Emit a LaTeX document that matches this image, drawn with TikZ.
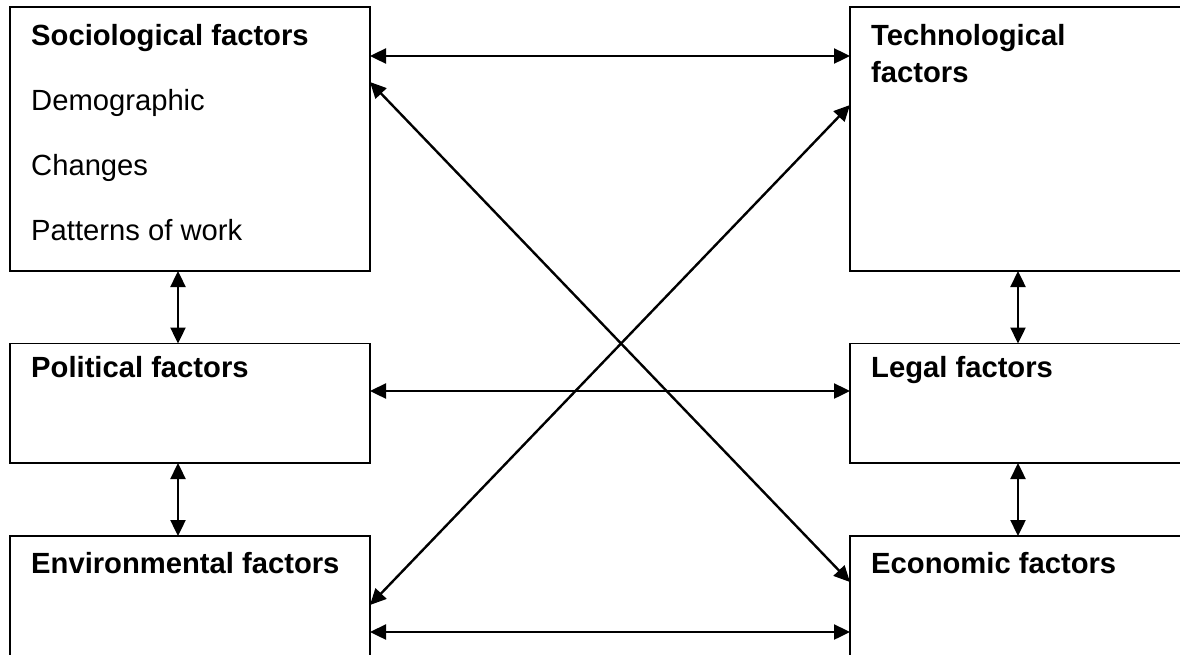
\documentclass[tikz,border=0pt]{standalone}
\usepackage{fontspec}
\setmainfont{Liberation Sans}
\usetikzlibrary{arrows.meta}

\begin{document}
\begin{tikzpicture}[x=1pt, y=-1pt,
  every node/.style={font=\fontsize{29.2}{34}\selectfont},
  factorbox/.style={draw, line width=1.5pt, inner sep=0pt, outer sep=0pt, anchor=north west},
  leftbox/.style={factorbox, minimum width=360pt},
  rightbox/.style={factorbox, minimum width=336pt},
  caption/.style={anchor=base west, inner sep=0pt},
  headline/.style={caption, font=\fontsize{29.2}{34}\selectfont\bfseries},
  link/.style={line width=2.4pt, {Triangle[length=16pt,width=15pt]}-{Triangle[length=16pt,width=15pt]}}]

  \useasboundingbox (0,0) rectangle (1180,654);
  \clip (0,0) rectangle (1180,654);

  % left column
  \node[leftbox, minimum height=264pt]   (soc) at (10,7) {};
  \node[leftbox, minimum height=119.5pt] (pol) at (10,343.5) {};
  \node[leftbox, minimum height=130pt]   (env) at (10,536) {};

  % right column
  \node[rightbox, minimum height=264pt]   (tec) at (850,7) {};
  \node[rightbox, minimum height=119.5pt] (leg) at (850,343.5) {};
  \node[rightbox, minimum height=130pt]   (eco) at (850,536) {};

  % captions
  \node[caption] (soct) at (31,45)
    {\vtop{\baselineskip=65.3pt\hbox{\bfseries Sociological factors}\hbox{Demographic}\hbox{Changes}\hbox{Patterns of work}}};
  \node[headline] (polt) at (31,377) {Political factors};
  \node[headline] (envt) at (31,573) {Environmental factors};
  \node[headline] (tect) at (871,45)
    {\vtop{\baselineskip=37pt\hbox{Technological}\hbox{factors}}};
  \node[headline] (legt) at (871,377) {Legal factors};
  \node[headline] (ecot) at (871,573) {Economic factors};

  % vertical links
  \draw[link] ([xshift=-12pt]soc.south) -- ([xshift=-12pt]pol.north);
  \draw[link] ([xshift=-12pt]pol.south) -- ([xshift=-12pt]env.north);
  \draw[link] (tec.south) -- (leg.north);
  \draw[link] (leg.south) -- (eco.north);

  % horizontal links
  \draw[link] ([yshift=-49pt]soc.north east) -- ([yshift=-49pt]tec.north west);
  \draw[link] ([yshift=-47.5pt]pol.north east) -- ([yshift=-47.5pt]leg.north west);
  \draw[link] ([yshift=-96pt]env.north east) -- ([yshift=-96pt]eco.north west);

  % diagonal links
  \draw[link] ([yshift=-75pt]soc.north east) -- ([yshift=-46pt]eco.north west);
  \draw[link] ([yshift=-69pt]env.north east) -- ([yshift=-98pt]tec.north west);
\end{tikzpicture}
\end{document}
